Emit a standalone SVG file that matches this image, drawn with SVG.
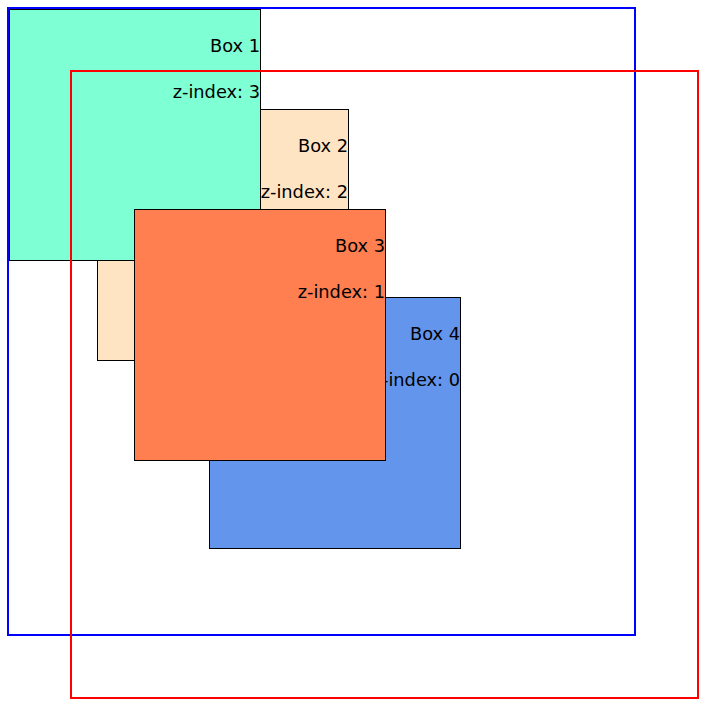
<svg xmlns="http://www.w3.org/2000/svg" width="723" height="719" viewBox="0 0 723 719">
<style>
.box{stroke:#000;stroke-width:1}
.lbl{font-family:"DejaVu Sans","Liberation Sans",sans-serif;font-size:17.8px;fill:#000;text-anchor:end}
.frame{fill:none;stroke-width:2}
</style>
<rect width="723" height="719" fill="#fff"/>
<g id="container-blue"><rect class="frame" x="8" y="8" width="627" height="627" stroke="#0000FF"/></g>
<g id="box4">
<rect class="box" x="209.5" y="297.5" width="251" height="251" fill="#6495ED"/>
<text class="lbl" x="460" y="339.7">Box 4</text>
<text class="lbl" x="460" y="386.3">z-index: 0</text>
</g>
<g id="box2">
<rect class="box" x="97.5" y="109.5" width="251" height="251" fill="#FFE4C4"/>
<text class="lbl" x="348" y="151.7">Box 2</text>
<text class="lbl" x="348" y="198.3">z-index: 2</text>
</g>
<g id="box1">
<rect class="box" x="9.5" y="9.5" width="251" height="251" fill="#7FFFD4"/>
<text class="lbl" x="260" y="51.7">Box 1</text>
<text class="lbl" x="260" y="98.3">z-index: 3</text>
</g>
<g id="box3">
<rect class="box" x="134.5" y="209.5" width="251" height="251" fill="#FF7F50"/>
<text class="lbl" x="385" y="251.7">Box 3</text>
<text class="lbl" x="385" y="298.3">z-index: 1</text>
</g>
<g id="container-red"><rect class="frame" x="71" y="71" width="627" height="627" stroke="#FF0000"/></g>
</svg>
